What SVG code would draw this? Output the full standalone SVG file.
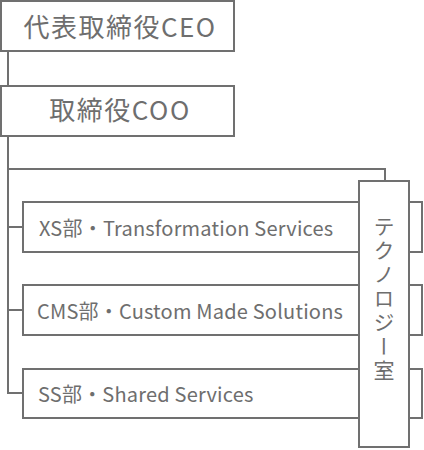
<svg xmlns="http://www.w3.org/2000/svg" width="424" height="450" viewBox="0 0 424 450">
<style>
.box{fill:#fff;stroke:#707070;stroke-width:2}
.ln{fill:none;stroke:#707070;stroke-width:2}
text{font-family:"Noto Sans CJK JP","Noto Sans",sans-serif;fill:#6e6e6e;font-weight:400}
.t1{font-size:26px;text-anchor:middle;letter-spacing:1.5px}
.t2{font-size:20px;letter-spacing:0.2px}
.tv{font-size:21px;writing-mode:vertical-rl;text-anchor:middle;letter-spacing:3px}
</style>
<rect width="424" height="450" fill="#fff"/>
<g id="connectors">
<path class="ln" d="M8,52 V85 M8,137 V393 H22 M8,227 H22 M8,310 H22 M8,169 H385 V180"/>
</g>
<g id="ceo"><rect class="box" x="1" y="1" width="233" height="50"/><text class="t1" x="120" y="37">代表取締役CEO</text></g>
<g id="coo"><rect class="box" x="1" y="86" width="233" height="50"/><text class="t1" x="120" y="120">取締役COO</text></g>
<g id="xs"><rect class="box" x="23" y="202" width="399" height="50"/><text class="t2" x="39" y="236">XS部・Transformation Services</text></g>
<g id="cms"><rect class="box" x="23" y="285" width="399" height="50"/><text class="t2" x="37" y="319">CMS部・Custom Made Solutions</text></g>
<g id="ss"><rect class="box" x="23" y="369" width="399" height="49"/><text class="t2" x="38" y="402">SS部・Shared Services</text></g>
<g id="tech"><rect class="box" x="359" y="181" width="50" height="266"/><text class="tv" x="384" y="300">テクノロジー室</text></g>
</svg>
